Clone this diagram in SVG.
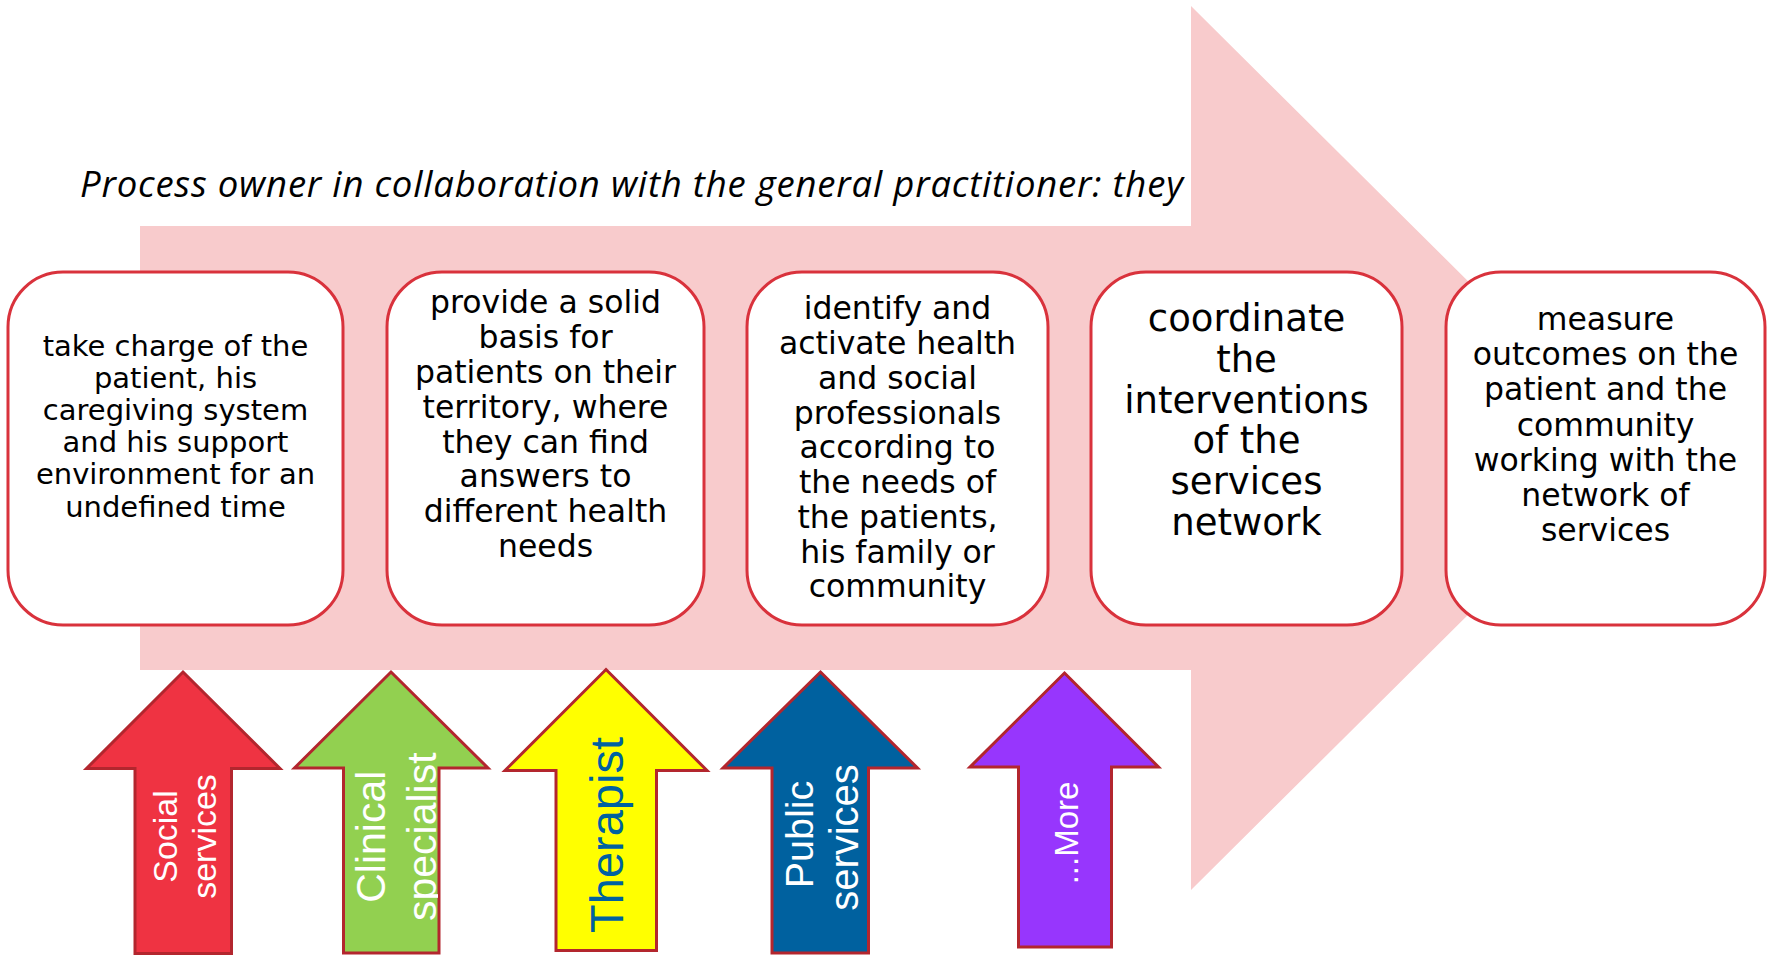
<svg xmlns="http://www.w3.org/2000/svg" width="1767" height="959" viewBox="0 0 1767 959">
<defs>
<style>
.box{fill:#FFFFFF;stroke:#D9323C;stroke-width:3}
.bt{font-family:"DejaVu Sans","Verdana",sans-serif;fill:#000000;text-anchor:middle}
.up{stroke:#B3262E;stroke-width:3;stroke-linejoin:miter}
.at{font-family:"Liberation Sans","Arial",sans-serif;text-anchor:middle}
.title{font-family:"Open Sans","Noto Sans",sans-serif;font-style:italic;font-size:36.5px;fill:#000000}
</style>
<clipPath id="clipGreen"><rect x="344" y="700" width="94" height="252"/></clipPath>
</defs>

<g id="main-arrow">
<polygon points="140,226 1191,226 1191,6 1636,448 1191,890 1191,670 140,670" fill="#F8CBCC"/>
</g>

<g id="title">
<text class="title" x="80" y="197" textLength="1103">Process owner in collaboration with the general practitioner: they</text>
</g>

<g id="box1">
<rect class="box" x="8" y="272" width="335" height="353" rx="55" ry="55"/>
<text class="bt" font-size="29"><tspan x="175.5" y="356">take charge of the</tspan><tspan x="175.5" y="388.1">patient, his</tspan><tspan x="175.5" y="420.2">caregiving system</tspan><tspan x="175.5" y="452.3">and his support</tspan><tspan x="175.5" y="484.4">environment for an</tspan><tspan x="175.5" y="516.5">undefined time</tspan></text>
</g>

<g id="box2">
<rect class="box" x="387" y="272" width="317" height="353" rx="55" ry="55"/>
<text class="bt" font-size="31.5"><tspan x="545.5" y="313.3">provide a solid</tspan><tspan x="545.5" y="348.1">basis for</tspan><tspan x="545.5" y="382.9">patients on their</tspan><tspan x="545.5" y="417.7">territory, where</tspan><tspan x="545.5" y="452.5">they can find</tspan><tspan x="545.5" y="487.3">answers to</tspan><tspan x="545.5" y="522.1">different health</tspan><tspan x="545.5" y="556.9">needs</tspan></text>
</g>

<g id="box3">
<rect class="box" x="747" y="272" width="301" height="353" rx="55" ry="55"/>
<text class="bt" font-size="31.5"><tspan x="897.5" y="319.3">identify and</tspan><tspan x="897.5" y="354.05">activate health</tspan><tspan x="897.5" y="388.8">and social</tspan><tspan x="897.5" y="423.55">professionals</tspan><tspan x="897.5" y="458.3">according to</tspan><tspan x="897.5" y="493.05">the needs of</tspan><tspan x="897.5" y="527.8">the patients,</tspan><tspan x="897.5" y="562.55">his family or</tspan><tspan x="897.5" y="597.3">community</tspan></text>
</g>

<g id="box4">
<rect class="box" x="1091" y="272" width="311" height="353" rx="55" ry="55"/>
<text class="bt" font-size="37"><tspan x="1246.5" y="331">coordinate</tspan><tspan x="1246.5" y="371.8">the</tspan><tspan x="1246.5" y="412.6">interventions</tspan><tspan x="1246.5" y="453.4">of the</tspan><tspan x="1246.5" y="494.2">services</tspan><tspan x="1246.5" y="535">network</tspan></text>
</g>

<g id="box5">
<rect class="box" x="1446" y="272" width="319" height="353" rx="55" ry="55"/>
<text class="bt" font-size="31.5"><tspan x="1605.5" y="330">measure</tspan><tspan x="1605.5" y="365.2">outcomes on the</tspan><tspan x="1605.5" y="400.4">patient and the</tspan><tspan x="1605.5" y="435.6">community</tspan><tspan x="1605.5" y="470.8">working with the</tspan><tspan x="1605.5" y="506">network of</tspan><tspan x="1605.5" y="541.2">services</tspan></text>
</g>

<g id="arrow-social">
<polygon class="up" fill="#EF3342" points="183,672 280,768.5 231.5,768.5 231.5,953.5 135,953.5 135,768.5 86.5,768.5"/>
<text class="at" font-size="34" fill="#FFFFFF" transform="translate(177,836.5) rotate(-90)">Social</text>
<text class="at" font-size="34" fill="#FFFFFF" transform="translate(216,836.5) rotate(-90)">services</text>
</g>

<g id="arrow-clinical">
<polygon class="up" fill="#92D050" points="391,672 488,768 439,768 439,953 343.5,953 343.5,768 294.5,768"/>
<g clip-path="url(#clipGreen)">
<text class="at" font-size="41" fill="#FFFFFF" transform="translate(385,836.7) rotate(-90)">Clinical</text>
<text class="at" font-size="41" fill="#FFFFFF" transform="translate(436,836.7) rotate(-90)">specialist</text>
</g>
</g>

<g id="arrow-therapist">
<polygon class="up" fill="#FFFF00" points="606,669.5 707,770.5 656.5,770.5 656.5,950.5 556,950.5 556,770.5 505,770.5"/>
<text class="at" font-size="47" fill="#0061A0" transform="translate(622.5,835) rotate(-90)">Therapist</text>
</g>

<g id="arrow-public">
<polygon class="up" fill="#00619F" points="820.5,672 917.5,768 868.5,768 868.5,953 772,953 772,768 723,768"/>
<text class="at" font-size="39.5" fill="#FFFFFF" transform="translate(813.3,834.5) rotate(-90)">Public</text>
<text class="at" font-size="40" fill="#FFFFFF" transform="translate(858.3,837.5) rotate(-90)">services</text>
</g>

<g id="arrow-more">
<polygon class="up" fill="#9736FD" points="1064.5,673 1158.5,767 1111.5,767 1111.5,947 1018.5,947 1018.5,767 970,767"/>
<text class="at" font-size="33" fill="#FFFFFF" transform="translate(1078.3,833) rotate(-90)">...More</text>
</g>

<g id="connectors"></g>
</svg>
